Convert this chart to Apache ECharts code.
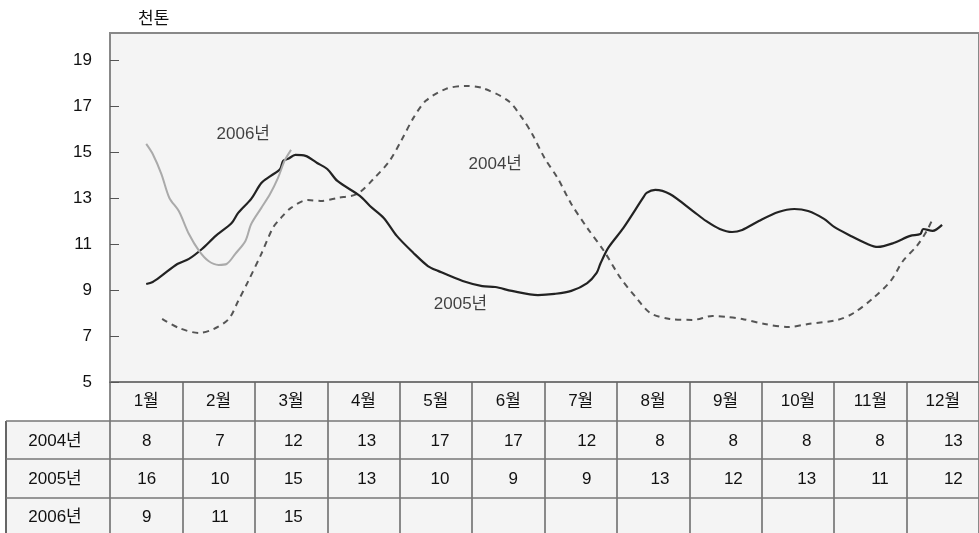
<!DOCTYPE html>
<html><head><meta charset="utf-8">
<script src="https://cdn.jsdelivr.net/npm/echarts@6/dist/echarts.min.js"></script>
<style>html,body{margin:0;padding:0;background:#fff}#c{width:979px;height:533px}</style>
</head><body><div id="c"></div>
<script>
const months = ['1월','2월','3월','4월','5월','6월','7월','8월','9월','10월','11월','12월'];
const unitLabel = '천톤';
// line traces: [month position (1 = Jan centre), value]
const line2004 = [[1.22,7.74],[1.45,7.35],[1.73,7.13],[1.93,7.30],[2.14,7.74],[2.27,8.52],[2.41,9.39],[2.59,10.57],[2.75,11.70],[2.86,12.13],[3.00,12.57],[3.23,12.91],[3.41,12.87],[3.64,13.00],[3.91,13.17],[4.14,13.83],[4.36,14.61],[4.52,15.48],[4.69,16.48],[4.86,17.22],[5.14,17.74],[5.41,17.87],[5.64,17.78],[6.00,17.22],[6.19,16.48],[6.33,15.78],[6.50,14.74],[6.68,13.87],[6.87,12.74],[7.09,11.70],[7.32,10.70],[7.55,9.52],[7.77,8.65],[7.96,8.00],[8.23,7.74],[8.55,7.70],[8.82,7.87],[9.02,7.83],[9.23,7.74],[9.54,7.52],[9.87,7.39],[10.14,7.52],[10.55,7.70],[10.77,8.00],[11.04,8.65],[11.28,9.39],[11.45,10.26],[11.64,10.91],[11.78,11.57],[11.86,12.09]];
const line2005 = [[1.00,9.26],[1.09,9.35],[1.21,9.61],[1.43,10.13],[1.59,10.35],[1.77,10.78],[1.96,11.35],[2.18,11.91],[2.27,12.35],[2.45,12.96],[2.59,13.65],[2.72,13.96],[2.85,14.26],[2.89,14.61],[2.96,14.70],[3.06,14.87],[3.20,14.83],[3.36,14.52],[3.50,14.26],[3.64,13.74],[3.95,13.09],[4.09,12.65],[4.28,12.13],[4.46,11.35],[4.69,10.61],[4.89,10.04],[5.03,9.83],[5.37,9.39],[5.64,9.17],[5.82,9.13],[6.05,8.96],[6.41,8.78],[6.64,8.83],[6.87,8.96],[7.09,9.30],[7.22,9.74],[7.27,10.13],[7.38,10.83],[7.59,11.70],[7.86,13.00],[7.91,13.22],[8.03,13.35],[8.23,13.17],[8.55,12.43],[8.73,12.00],[8.92,11.65],[9.09,11.52],[9.23,11.61],[9.46,12.00],[9.73,12.39],[9.95,12.52],[10.14,12.43],[10.36,12.09],[10.50,11.74],[10.73,11.35],[10.96,11.00],[11.10,10.87],[11.32,11.04],[11.55,11.35],[11.69,11.43],[11.73,11.65],[11.86,11.57],[11.99,11.83]];
const line2006 = [[1.00,15.35],[1.09,14.91],[1.21,14.04],[1.32,13.00],[1.45,12.43],[1.59,11.43],[1.73,10.70],[1.86,10.26],[2.00,10.09],[2.11,10.13],[2.23,10.57],[2.37,11.13],[2.45,11.87],[2.59,12.57],[2.71,13.17],[2.82,13.87],[2.91,14.61],[3.00,15.09]];
const seriesNames = ['2004년','2005년','2006년'];
const labelPos = [[5.82,14.48],[5.34,8.39],[2.34,15.78]];
const table2004 = ['8','7','12','13','17','17','12','8','8','8','8','13'];
const table2005 = ['16','10','15','13','10','9','9','13','12','13','11','12'];
const table2006 = ['9','11','15','','','','','','','','',''];
const tableRows = [table2004, table2005, table2006];

const FONT = '"Liberation Sans","Noto Sans CJK KR",sans-serif';
const FS = 17, TXT = '#111';
const L = 110, T = 33, PB = 382, W = 880, colW = W / 12;
const rowLines = [421, 459, 498];
const rowCenters = [441, 479, 517];

const chart = echarts.init(document.getElementById('c'));
const graphics = [
  {type:'rect', z:-5, shape:{x:L, y:PB, width:979-L, height:rowLines[0]-PB}, style:{fill:'#f4f4f4'}},
  {type:'rect', z:-5, shape:{x:6, y:rowLines[0], width:973, height:533-rowLines[0]}, style:{fill:'#f4f4f4'}},
  {type:'line', z:50, shape:{x1:6, y1:rowLines[0], x2:6, y2:533}, style:{stroke:'#666', lineWidth:2}}
];
rowLines.forEach(y => graphics.push({type:'line', z:50, shape:{x1:6, y1:y, x2:979, y2:y}, style:{stroke:'#777', lineWidth:1.5}}));
tableRows.forEach((row, r) => {
  graphics.push({type:'text', z:60, x:55, y:rowCenters[r], style:{text:seriesNames[r], fontSize:FS, fontFamily:FONT, fill:TXT, align:'center', verticalAlign:'middle'}});
  row.forEach((v, i) => {
    if (v === '') return;
    graphics.push({type:'text', z:60, x:L + colW*(i+0.5), y:rowCenters[r], style:{text:v, fontSize:FS, fontFamily:FONT, fill:TXT, align:'center', verticalAlign:'middle'}});
  });
});

chart.setOption({
  animation:false,
  backgroundColor:'#fff',
  title:{text:unitLabel, left:133, top:6, textStyle:{fontSize:FS, fontWeight:'normal', fontFamily:FONT, color:TXT}},
  grid:{left:L, top:T, width:W, height:PB-T, show:true, backgroundColor:'#f4f4f4', borderColor:'#888', borderWidth:2},
  xAxis:[
    {type:'category', data:months, boundaryGap:true, position:'bottom',
     axisLine:{show:true, lineStyle:{color:'#777', width:2}},
     axisTick:{show:true, length:151, lineStyle:{color:'#666', width:1.5}},
     axisLabel:{margin:11, fontSize:FS, fontFamily:FONT, color:TXT},
     splitLine:{show:false}},
    {type:'value', min:0.5, max:12.5, show:false}
  ],
  yAxis:{type:'value', min:5, max:20.17, interval:2,
    axisLine:{show:true, lineStyle:{color:'#888', width:2}},
    axisTick:{show:true, inside:true, length:9, lineStyle:{color:'#555', width:1}},
    axisLabel:{margin:18, fontSize:FS, fontFamily:FONT, color:TXT, showMaxLabel:false},
    splitLine:{show:false}},
  graphic:graphics,
  series:[
    {name:seriesNames[0], type:'line', xAxisIndex:1, data:line2004, smooth:0.3, showSymbol:false, symbol:'none',
     lineStyle:{color:'#555', width:2, type:[6,5]}},
    {name:seriesNames[1], type:'line', xAxisIndex:1, data:line2005, smooth:0.3, showSymbol:false, symbol:'none',
     lineStyle:{color:'#222', width:2.2}},
    {name:seriesNames[2], type:'line', xAxisIndex:1, data:line2006, smooth:0.3, showSymbol:false, symbol:'none',
     lineStyle:{color:'#aaa', width:2}},
    {type:'scatter', xAxisIndex:1, symbolSize:0, silent:true,
     data:labelPos.map((p,i)=>({value:p, name:seriesNames[i]})),
     label:{show:true, position:'inside', formatter:p=>p.name, fontSize:FS, fontFamily:FONT, color:TXT}}
  ]
});
</script></body></html>
